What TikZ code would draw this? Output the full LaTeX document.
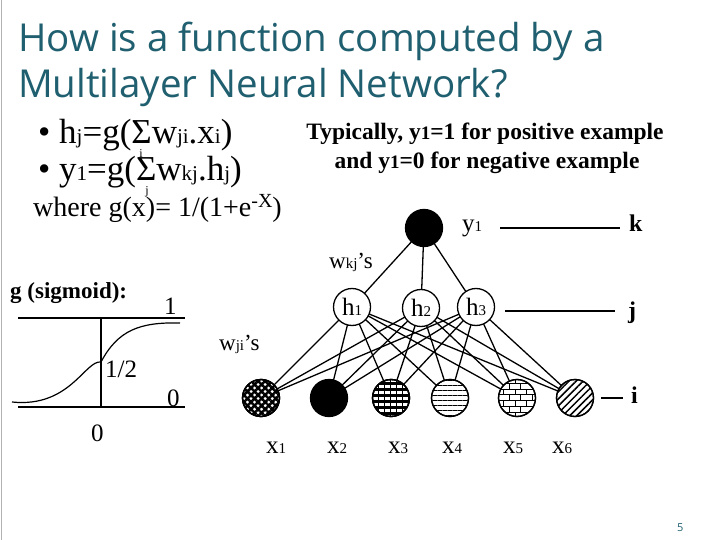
\documentclass[tikz,border=0pt]{standalone}
\usepackage{fontspec}
\setmainfont{Liberation Serif}
\newfontfamily\titlefont{Open Sans}
\usetikzlibrary{patterns,patterns.meta}
\definecolor{teal1}{HTML}{1F5F6F}
\newcommand{\sbs}[1]{{\fontsize{21}{21}\selectfont #1}}
\newcommand{\sbm}[1]{{\fontsize{19}{19}\selectfont #1}}
\newcommand{\sbt}[1]{{\fontsize{15}{15}\selectfont #1}}
\begin{document}
\begin{tikzpicture}[x=1pt,y=-1pt,
  txt/.style={inner sep=0pt,anchor=base west},
  idx/.style={inner sep=0pt,anchor=base,font=\fontsize{12}{12}\selectfont},
  neuron/.style={circle,draw,line width=1.3pt,minimum size=37pt,inner sep=0pt,fill=white},
  diag/.style={pattern={Lines[angle=45,distance=5pt,line width=1.5pt]}},
  edge/.style={line width=1.3pt},
  lev/.style={line width=1.3pt},
  big/.style={font=\fontsize{25}{28}\selectfont}]
\useasboundingbox (0,0) rectangle (720,540);
\fill[white] (0,0) rectangle (720,540);
\draw[gray!60,line width=1pt] (1,0) -- (1,540);
% title
\node[txt,text=teal1,font=\titlefont\fontsize{38.5}{44}\selectfont] (t1) at (18,52) {How is a function computed by a};
\node[txt,text=teal1,font=\titlefont\fontsize{38.5}{44}\selectfont] (t2) at (18,98) {Multilayer Neural Network?};
% formulas
\node[txt,font=\fontsize{35}{40}\selectfont] (f1) at (38,144) {• h\sbs{j}=g(Σw\sbs{ji}.x\sbs{i})};
\node[idx] (f1i) at (141,158) {i};
\node[txt,font=\fontsize{35}{40}\selectfont] (f2) at (38,181) {• y\sbs{1}=g(Σw\sbs{kj}.h\sbs{j})};
\node[idx] (f2j) at (147,195) {j};
\node[txt,font=\fontsize{28}{32}\selectfont] (f3) at (33,216) {where g(x)= 1/(1+e\raisebox{9pt}{\fontsize{20}{20}\selectfont -X})};
% typically
\node[font=\bfseries\fontsize{23.5}{26}\selectfont,inner sep=0pt,anchor=base] (ty1) at (485,140) {Typically, y\sbm{1}=1 for positive example};
\node[font=\bfseries\fontsize{23.5}{26}\selectfont,inner sep=0pt,anchor=base] (ty2) at (487,169) {and y\sbm{1}=0 for negative example};
% sigmoid
\node[txt,font=\bfseries\fontsize{23}{26}\selectfont] (gs) at (10,298) {g (sigmoid):};
\coordinate (ta) at (18,318); \coordinate (tb) at (185,318);
\coordinate (ba) at (18,407); \coordinate (bb) at (185,407);
\coordinate (va) at (101,318); \coordinate (vb) at (101,407);
\draw[line width=1.2pt] (ta) -- (tb) (ba) -- (bb) (va) -- (vb);
\draw[line width=1.2pt] (12,402) .. controls (70,408) and (85,360) .. (101,362) .. controls (118,330) and (140,322) .. (180,323);
\node[txt,big] (l1) at (164,314) {1};
\node[txt,big] (lh) at (105,377) {1/2};
\node[txt,big] (l0) at (167,406) {0};
\node[txt,big] (l00) at (91,441) {0};
% network
\coordinate (y) at (424,228);
\coordinate (h1) at (352,307);
\coordinate (h2) at (421,308);
\coordinate (h3) at (476,307);
\coordinate (x1) at (261,398);
\coordinate (x2) at (329,398);
\coordinate (x3) at (391,398);
\coordinate (x4) at (450,398);
\coordinate (x5) at (517,398);
\coordinate (x6) at (575,398);
\foreach \h in {h1,h2,h3}{
  \draw[edge] (y) -- (\h);
  \foreach \x in {x1,x2,x3,x4,x5,x6}{ \draw[edge] (\h) -- (\x); }
}
\node[neuron] (nh1) at (h1) {};
\node[neuron] (nh2) at (h2) {};
\node[neuron] (nh3) at (h3) {};
\node[neuron] at (x1) {};\node[neuron,pattern={Lines[angle=45,distance=5pt,line width=2.5pt]}] at (x1) {};\node[neuron,fill=none,pattern={Lines[angle=-45,distance=5pt,line width=2.5pt]},draw=none] (nx1) at (x1) {};\node[neuron,fill=none] at (x1) {};
\node[neuron,fill=black] (nx2) at (x2) {};
\node[neuron] at (x3) {};\node[neuron,pattern={Lines[angle=0,distance=6pt,line width=3pt]}] (nx3) at (x3) {};\node[neuron,fill=none,pattern={Lines[angle=90,distance=6pt,line width=1pt]}] at (x3) {};
\node[neuron] at (x4) {};\node[neuron,pattern={Lines[angle=0,distance=5pt,line width=0.7pt]}] (nx4) at (x4) {};
\node[neuron] at (x5) {};\node[neuron,pattern=bricks] (nx5) at (x5) {};
\node[neuron] at (x6) {};\node[neuron,diag] (nx6) at (x6) {};
\node[neuron,fill=black] (ny) at (y) {};
\node[big,inner sep=0pt] (h1l) at (h1) {h\sbt{1}};
\node[big,inner sep=0pt] (h2l) at (h2) {h\sbt{2}};
\node[big,inner sep=0pt] (h3l) at (h3) {h\sbt{3}};
\node[txt,big] (yl) at (462,232) {y\sbt{1}};
\node[txt,font=\fontsize{23}{26}\selectfont] (wkj) at (329,268) {w\sbt{kj}’s};
\node[txt,font=\fontsize{23}{26}\selectfont] (wji) at (219,350) {w\sbt{ji}’s};
\foreach \xx/\i in {266/1,327/2,388/3,442/4,503/5,552/6}{
  \node[txt,big] (xl\i) at (\xx,453) {x\sbt{\i}};
}
% levels
\coordinate (ka) at (500,228); \coordinate (kb) at (620,228);
\coordinate (ja) at (505,311); \coordinate (jb) at (615,311);
\coordinate (ia) at (601,398); \coordinate (ib) at (623,398);
\draw[lev] (ka) -- (kb) (ja) -- (jb) (ia) -- (ib);
\node[txt,font=\bfseries\fontsize{24}{26}\selectfont] (k) at (629,232) {k};
\node[txt,font=\bfseries\fontsize{24}{26}\selectfont] (j) at (628,318) {j};
\node[txt,font=\bfseries\fontsize{24}{26}\selectfont] (i) at (631,403) {i};
\node[txt,text=teal1,font=\titlefont\fontsize{11}{12}\selectfont] (pg) at (677,531) {5};
\end{tikzpicture}
\end{document}
